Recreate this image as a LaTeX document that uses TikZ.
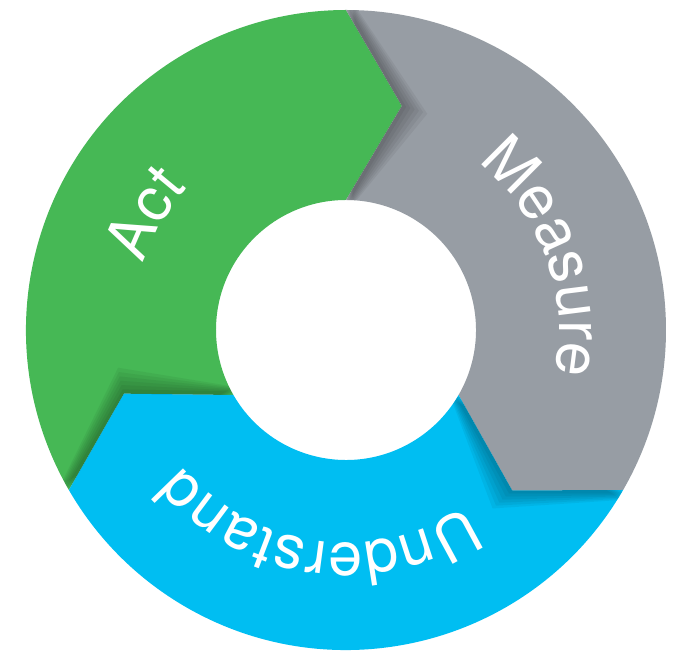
\documentclass[tikz,border=0pt]{standalone}
\usepackage{fontspec}
\setmainfont{TeX Gyre Heros}
\usetikzlibrary{decorations.text}
\definecolor{actgreen}{RGB}{70,184,85}
\definecolor{measgray}{RGB}{151,157,164}
\definecolor{undblue}{RGB}{0,190,242}
\begin{document}
\begin{tikzpicture}[x=1pt,y=1pt,
  ringtext/.style={decorate,decoration={text along path,text align=center,
    text color=white,text={|\fontsize{61}{66}\selectfont|#1}}}]
\def\Ro{320}\def\Ri{130}\def\Rt{231}
\useasboundingbox[fill=white] (-346,-322) rectangle (327,330);
% segments
\foreach \a/\b/\c in {210/90/actgreen, 90/-30/measgray, -30/-150/undblue}{
  \fill[\c] (\a:\Ro) arc[start angle=\a, end angle=\b, radius=\Ro]
    -- ({\b-14}:\Rt) -- (\b:\Ri) arc[start angle=\b, end angle=\a, radius=\Ri]
    -- ({\a-14}:\Rt) -- cycle;
}
% shadows cast by each arrow tip on the following segment
\foreach \b in {90,-30,-150}{
  \begin{scope}
    \clip (\b:\Ro) arc[start angle=\b, end angle={\b-120}, radius=\Ro]
      -- ({\b-134}:\Rt) -- ({\b-120}:\Ri) arc[start angle={\b-120}, end angle=\b, radius=\Ri]
      -- ({\b-14}:\Rt) -- cycle;
    \foreach \k in {1,...,6}{
      \fill[black,opacity=0.05] ({\b-0.25*\k}:\Ro+5) -- ({\b-14-1.1*\k}:\Rt)
        -- ({\b-0.5*\k}:\Ri-5) -- cycle;
    }
  \end{scope}
}
% labels along the ring
\path[ringtext=Act] (220:213) arc[start angle=220, end angle=80, radius=213];
\path[ringtext=Measure] (89:213) arc[start angle=89, end angle=-49, radius=213];
\path[ringtext=Understand] (-25:213) arc[start angle=-25, end angle=-171, radius=213];
\end{tikzpicture}
\end{document}
